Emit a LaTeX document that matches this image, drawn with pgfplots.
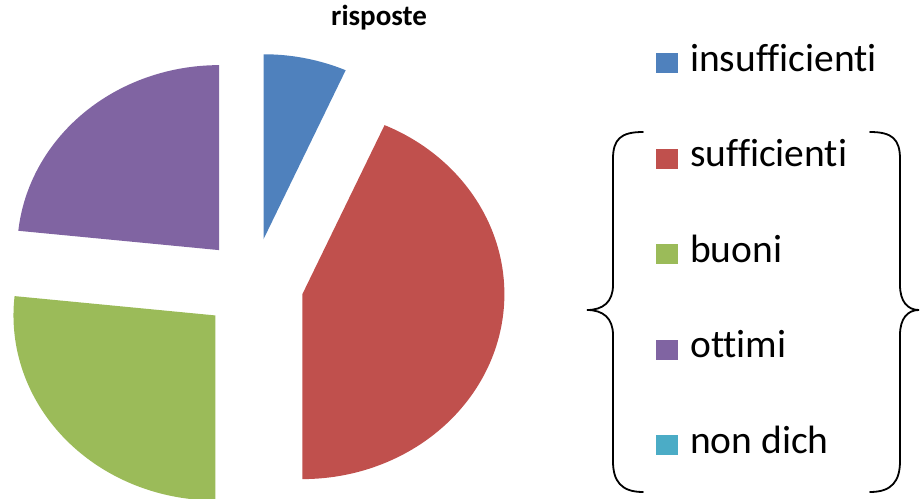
\documentclass[border=0pt]{standalone}
\usepackage{fontspec}
\setmainfont{Carlito}[Ligatures=NoCommon]
\usepackage{pgfplots}
\usepackage{pgfplotstable}
\pgfplotsset{compat=1.18}

\definecolor{pie0}{HTML}{4F81BD}
\definecolor{pie1}{HTML}{C0504D}
\definecolor{pie2}{HTML}{9BBB59}
\definecolor{pie3}{HTML}{8064A2}
\definecolor{pie4}{HTML}{4BACC6}

\pgfplotstableread[col sep=comma]{
label,value
insufficienti,2
sufficienti,13
buoni,8
ottimi,7
non dich,0
}\risposte

\begin{document}
\begin{tikzpicture}
\path[use as bounding box, clip] (0,0) rectangle (921bp,499bp);

% total of the answers
\pgfplotstablegetrowsof{\risposte}
\pgfmathtruncatemacro\lastrow{\pgfplotsretval-1}
\gdef\pietotal{0}
\foreach \i in {0,...,\lastrow}{%
  \pgfplotstablegetelem{\i}{value}\of\risposte
  \pgfmathsetmacro\tmp{\pietotal+\pgfplotsretval}%
  \xdef\pietotal{\tmp}%
}
% start/end angle of each slice (clockwise from 12 o'clock) and its explode offset
\gdef\piecum{0}
\foreach \i in {0,...,\lastrow}{%
  \pgfplotstablegetelem{\i}{value}\of\risposte
  \pgfmathsetmacro\angA{90-360*\piecum/\pietotal}%
  \pgfmathsetmacro\newcum{\piecum+\pgfplotsretval}%
  \pgfmathsetmacro\angB{90-360*\newcum/\pietotal}%
  \pgfmathsetmacro\offx{0.25*cos((\angA+\angB)/2)}%
  \pgfmathsetmacro\offy{0.25*sin((\angA+\angB)/2)}%
  \expandafter\xdef\csname pieFrom\i\endcsname{\angA}%
  \expandafter\xdef\csname pieTo\i\endcsname{\angB}%
  \expandafter\xdef\csname pieDx\i\endcsname{\offx}%
  \expandafter\xdef\csname pieDy\i\endcsname{\offy}%
  \xdef\piecum{\newcum}%
}

\begin{axis}[
  at={(253bp,214.5bp)}, anchor=origin,
  scale only axis, width=525.2bp, height=481bp,
  xmin=-1.3, xmax=1.3, ymin=-1.3, ymax=1.3,
  hide axis, clip=false,
  title={risposte},
  title style={at={(0.740,1.027)}, anchor=base, inner sep=0pt,
    font=\fontsize{29bp}{32bp}\selectfont\bfseries},
  legend style={at={(1.2673,1.002)}, anchor=north west, draw=none, fill=none,
    inner sep=0pt, row sep=59.5bp,
    font=\fontsize{39.5bp}{42bp}\selectfont,
    nodes={inner sep=0pt, text height=28bp, text depth=8bp},
    /tikz/every odd column/.style={column sep=12bp}},
  legend cell align=left,
  legend image code/.code={\fill[#1] (0bp,-12bp) rectangle (22bp,8bp);},
]
\pgfplotsinvokeforeach{0,...,3}{%
  \edef\pieplot{\noexpand\addplot[fill=pie#1, draw=none,
      domain=\csname pieTo#1\endcsname:\csname pieFrom#1\endcsname, samples=120]
    ({\csname pieDx#1\endcsname+cos(\noexpand\x)}, {\csname pieDy#1\endcsname+sin(\noexpand\x)})
    -- (\csname pieDx#1\endcsname,\csname pieDy#1\endcsname) -- cycle;}%
  \pieplot
}
\addlegendimage{fill=pie4, draw=none}
\legend{insufficienti, sufficienti, buoni, ottimi, non dich}
\end{axis}

% braces grouping the last four entries
\begin{scope}[x=1bp, y=1bp, line width=1.8bp, line cap=round]
\draw (643,367) .. controls (621,367) and (613,360) .. (613,340) -- (613,214)
  .. controls (613,197) and (603,189) .. (587,189)
  .. controls (603,189) and (613,181) .. (613,164) -- (613,38)
  .. controls (613,18) and (621,7) .. (643,7);
\draw (870,367) .. controls (892,367) and (900,360) .. (900,340) -- (900,214)
  .. controls (900,197) and (908,189) .. (919,189)
  .. controls (908,189) and (900,181) .. (900,164) -- (900,38)
  .. controls (900,18) and (892,7) .. (870,7);
\end{scope}
\end{tikzpicture}
\end{document}
